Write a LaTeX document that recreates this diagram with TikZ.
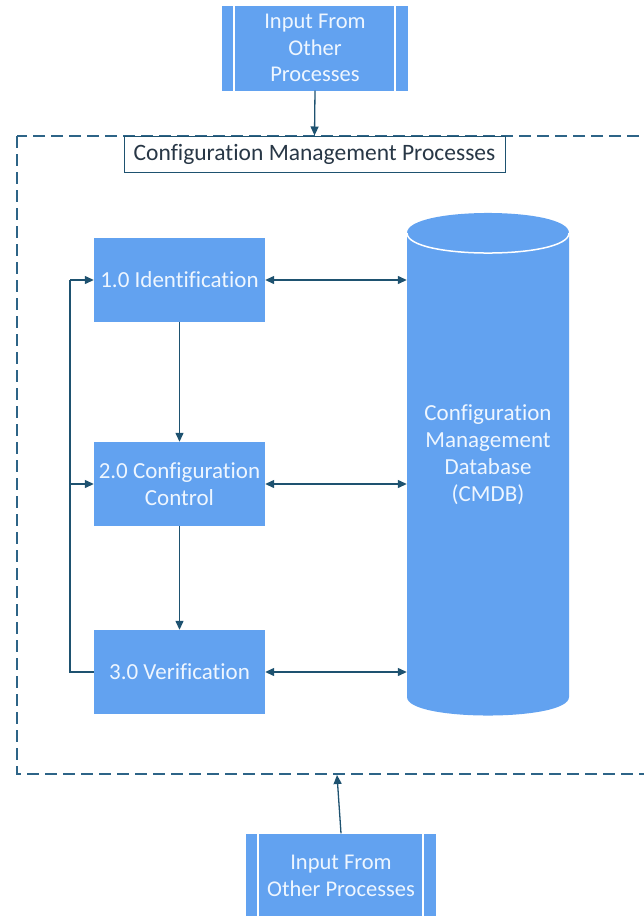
\documentclass[tikz,border=0pt]{standalone}
\usepackage{fontspec}
\setmainfont{Carlito}[Ligatures={NoCommon,NoContextual}]
\usetikzlibrary{arrows.meta}
\definecolor{boxblue}{RGB}{98,162,240}
\definecolor{linkteal}{RGB}{30,82,112}
\definecolor{frameteal}{RGB}{45,100,135}
\definecolor{titleink}{RGB}{40,55,70}
\definecolor{boxink}{RGB}{238,246,255}
\begin{document}
\begin{tikzpicture}[x=1pt,y=-1pt,
  procbox/.style={rectangle, fill=boxblue, minimum width=171pt, minimum height=84pt,
    inner sep=2pt, align=center, text=boxink, font=\fontsize{23}{27}\selectfont},
  inbox/.style={rectangle, fill=boxblue, minimum height=85pt,
    inner sep=2pt, align=center, text=boxink, font=\fontsize{22.5}{26.5}\selectfont},
  link/.style={draw=linkteal, line width=1.3pt, -{Triangle[length=9pt,width=8pt]}},
  duallink/.style={draw=linkteal, line width=1.3pt,
    {Triangle[length=9pt,width=8pt]}-{Triangle[length=9pt,width=8pt]}},
  plainlink/.style={draw=linkteal, line width=1.3pt}]
\useasboundingbox (0,0) rectangle (644,916);
\clip (0,0) rectangle (644,916);

% outer dashed frame around the process group
\draw[frameteal, line width=1.8pt, dash pattern=on 12pt off 6pt] (17,136) rectangle (680,774);

% input box at the top, with its two inner bars
\node[inbox, minimum width=186pt] (in1) at (315,48) {Input From\\Other\\Processes};
\draw[white, line width=1.5pt] ([xshift=12pt]in1.north west) -- ([xshift=12pt]in1.south west);
\draw[white, line width=1.5pt] ([xshift=-13pt]in1.north east) -- ([xshift=-13pt]in1.south east);

% group title
\node[rectangle, draw=linkteal, line width=1pt, fill=white, minimum width=381pt,
  minimum height=36pt, inner sep=0pt, text=titleink, font=\fontsize{23.5}{26}\selectfont]
  (title) at (314.5,154) {Configuration Management Processes};

% the three process steps
\node[procbox] (b1) at (179.5,280) {1.0 Identification};
\node[procbox] (b2) at (179.5,484) {2.0 Configuration\\Control};
\node[procbox] (b3) at (179.5,672) {3.0 Verification};

% database cylinder
\fill[boxblue] (407,233) .. controls (407,206.3) and (569,206.3) .. (569,233)
  -- (569,697) .. controls (569,721.7) and (407,721.7) .. (407,697) -- cycle;
\draw[white, line width=1.5pt] (407,233) .. controls (407,259.7) and (569,259.7) .. (569,233);
\node[rectangle, minimum width=162pt, inner sep=0pt, align=center, text=boxink,
  font=\fontsize{23}{27}\selectfont] (db) at (488,455)
  {Configuration\\Management\\Database\\(CMDB)};

% input box at the bottom
\node[inbox, minimum width=190pt] (in2) at (341,876) {Input From\\Other Processes};
\draw[white, line width=1.5pt] ([xshift=12pt]in2.north west) -- ([xshift=12pt]in2.south west);
\draw[white, line width=1.5pt] ([xshift=-13pt]in2.north east) -- ([xshift=-13pt]in2.south east);
\coordinate (framehit) at (337,775);

% connectors
\draw[link] (in1.south) -- (title.north);
\draw[link] (in2.north) -- (framehit);
\draw[link] (b1.south) -- (b2.north);
\draw[link] (b2.south) -- (b3.north);
\draw[duallink] (b1.east) -- (b1.east -| db.west);
\draw[duallink] (b2.east) -- (b2.east -| db.west);
\draw[duallink] (b3.east) -- (b3.east -| db.west);
\coordinate (loopx) at (70,0);
\draw[plainlink] (b3.west) -- (b3.west -| loopx) -- (b1.west -| loopx);
\draw[link] (b1.west -| loopx) -- (b1.west);
\draw[link] (b2.west -| loopx) -- (b2.west);
\end{tikzpicture}
\end{document}
